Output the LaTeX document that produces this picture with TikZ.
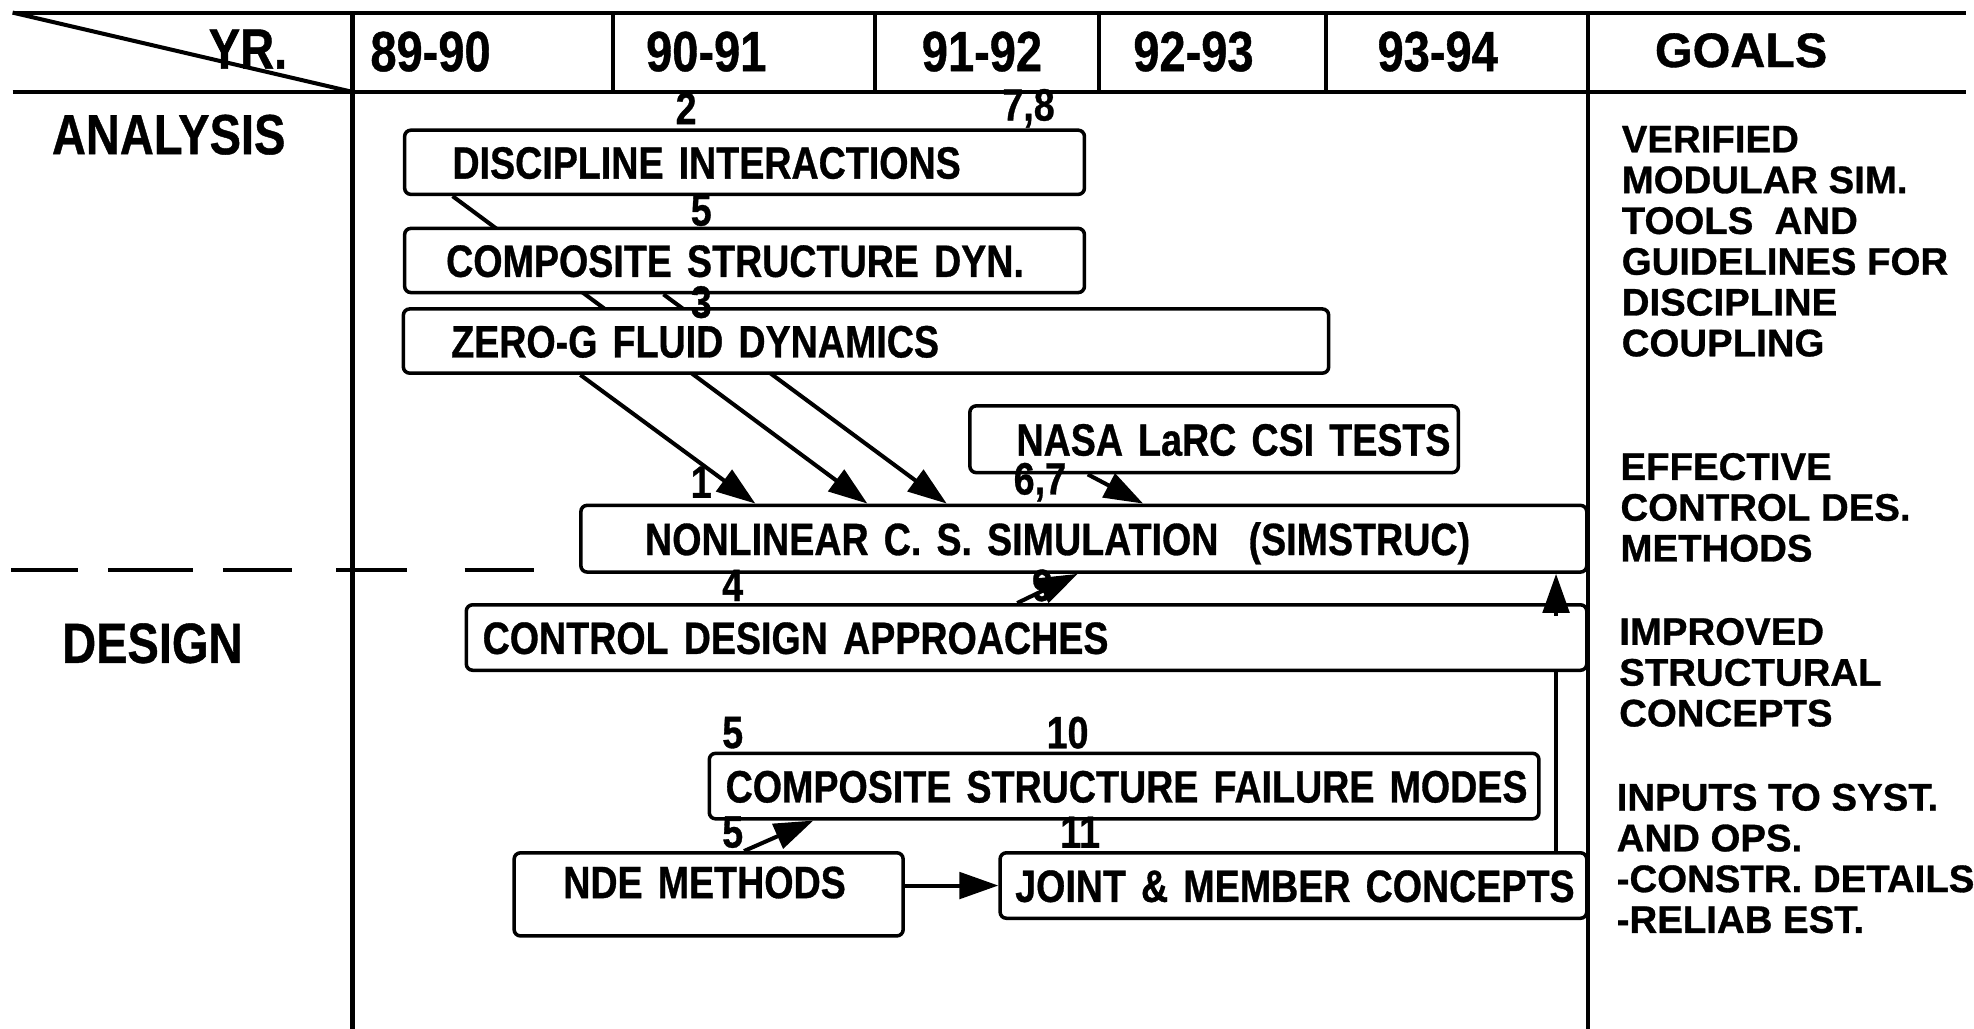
\documentclass[tikz,border=0pt]{standalone}
\usepackage{fontspec}
\setmainfont{Liberation Sans}
\newfontfamily\nb[FakeStretch=0.83,FakeBold=0.7]{Liberation Sans}
\newfontfamily\wb[FakeBold=0.8]{Liberation Sans}
\usetikzlibrary{arrows.meta,calc}
\pgfdeclarelayer{bg}
\pgfsetlayers{bg,main}
\newcommand\boxf{\nb\bfseries\fontsize{36}{42}\selectfont}
\newcommand\headf{\nb\bfseries\fontsize{45}{50}\selectfont}
\newcommand\goalf{\wb\bfseries\fontsize{30.5}{32.4}\selectfont}
\newcommand\goalhf{\wb\bfseries\fontsize{38.5}{44}\selectfont}
\begin{document}
\begin{tikzpicture}[x=1pt,y=-1pt,
  grid/.style={line width=3.2pt},
  box/.style 2 args={draw, line width=2.8pt, rounded corners=5pt, fill=white, anchor=north west,
    minimum width=#1pt, minimum height=#2pt, text width=#1pt, inner xsep=0pt, inner ysep=0pt,
    align=left, font=\boxf, text height=26pt, text depth=0pt},
  num/.style={font=\boxf, inner sep=0pt},
  head/.style={font=\headf, inner sep=0pt},
  goal/.style={font=\goalf, inner sep=0pt, align=left, anchor=base west},
  conn/.style={line width=3.2pt},
  arr/.style={conn, -{Triangle[length=31pt,width=21pt]}},
]
\useasboundingbox (0,0) rectangle (1568,817);

% grid
\draw[grid] (10,10) -- (1562,10);
\draw[grid] (10,73) -- (1562,73);
\draw[grid] (10,10) -- (280,73);
\draw[grid] (280,10) -- (280,817);
\foreach \x in {487,695,873,1053} \draw[grid] (\x,10) -- (\x,73);
\draw[grid] (1261,10) -- (1261,817);
\foreach \a/\b in {9/62,86/153,177/232,267/323,369/424} \draw[grid] (\a,453) -- (\b,453);

% header
\node[head] (yr) at (197,39) {YR.};
\node[head] (c1) at (342,41) {89-90};
\node[head] (c2) at (561,41) {90-91};
\node[head] (c3) at (780,41) {91-92};
\node[head] (c4) at (948,41) {92-93};
\node[head] (c5) at (1142,41) {93-94};
\node[font=\goalhf, inner sep=0pt] (goals) at (1383,40) {GOALS};

\node[head] (analysis) at (134,107) {ANALYSIS};
\node[head] (design) at (121,511) {DESIGN};

% boxes
\node[box={540}{51}] (disc) at (320,102) {\hspace*{38pt}DISCIPLINE INTERACTIONS};
\node[box={540}{51}] (comp) at (320,180) {\hspace*{33pt}COMPOSITE STRUCTURE DYN.};
\node[box={735}{51}] (zero) at (319,244) {\hspace*{38pt}ZERO-G FLUID DYNAMICS};
\node[box={388}{53}] (nasa) at (769,321) {\hspace*{37pt}NASA LaRC CSI TESTS};
\node[box={799}{53}] (nonlin) at (460,400) {\hspace*{51pt}NONLINEAR C. S. SIMULATION~~(SIMSTRUC)};
\node[box={890}{52}] (ctrl) at (369,479) {\hspace*{13pt}CONTROL DESIGN APPROACHES};
\node[box={659}{52}] (fail) at (562,597) {\hspace*{13pt}COMPOSITE STRUCTURE FAILURE MODES};
\node[box={309}{66}, text depth=20pt] (nde) at (407,676) {\hspace*{39pt}NDE METHODS};
\node[box={466}{52}] (joint) at (793,676) {\hspace*{12pt}JOINT \& MEMBER CONCEPTS};

% numbers
\node[num] (n2) at (545,86) {2};
\node[num] (n78) at (817,86) {7,8};
\node[num] (n5a) at (557,167) {5};
\node[num] (n3) at (557,240) {3};
\node[num] (n1) at (557,383) {1};
\node[num] (n67) at (826,383) {6,7};
\node[num] (n4) at (582,465) {4};
\node[num] (n9) at (828,465) {9};
\node[num] (n5b) at (582,582) {5};
\node[num] (n10) at (848,582) {10};
\node[num] (n5c) at (582,661) {5};
\node[num] (n11) at (858,661) {11};

% goals (anchor = baseline of last line)
\node[goal] (g1) at (1288,283) {VERIFIED\\MODULAR SIM.\\TOOLS~~AND\\GUIDELINES FOR\\DISCIPLINE\\COUPLING};
\node[goal] (g2) at (1287,446) {EFFECTIVE\\CONTROL DES.\\METHODS};
\node[goal] (g3) at (1286,577) {IMPROVED\\STRUCTURAL\\CONCEPTS};
\node[goal] (g4) at (1284,741) {INPUTS TO SYST.\\AND OPS.\\-CONSTR. DETAILS\\-RELIAB EST.};

% arrow up to simulation (over control box)
\draw[arr] ($(ctrl.north west)+(867,10)$) -- ($(nonlin.south west)+(776,0)$);

\begin{pgfonlayer}{bg}
\fill[white] (0,0) rectangle (1568,817);
\draw[arr] ($(disc.south west)+(39.5,0)$) -- ($(nonlin.north west)+(229,0)$);
\draw[arr] ($(comp.south west)+(207,0)$) -- ($(nonlin.north west)+(292,0)$);
\draw[arr] ($(zero.south west)+(142,0)$) -- ($(nonlin.north west)+(140,0)$);
\draw[arr] ($(nasa.south west)+(95,0)$) -- ($(nonlin.north west)+(448,0)$);
\draw[arr] ($(ctrl.north west)+(439,0)$) -- ($(nonlin.south west)+(396,0)$);
\draw[conn] ($(joint.north west)+(443,0)$) -- ($(ctrl.south west)+(867,0)$);
\draw[arr] ($(nde.north west)+(184,0)$) -- ($(fail.south west)+(84,0)$);
\draw[arr] (nde.east |- joint.west) -- (joint.west);
\end{pgfonlayer}
\end{tikzpicture}
\end{document}
